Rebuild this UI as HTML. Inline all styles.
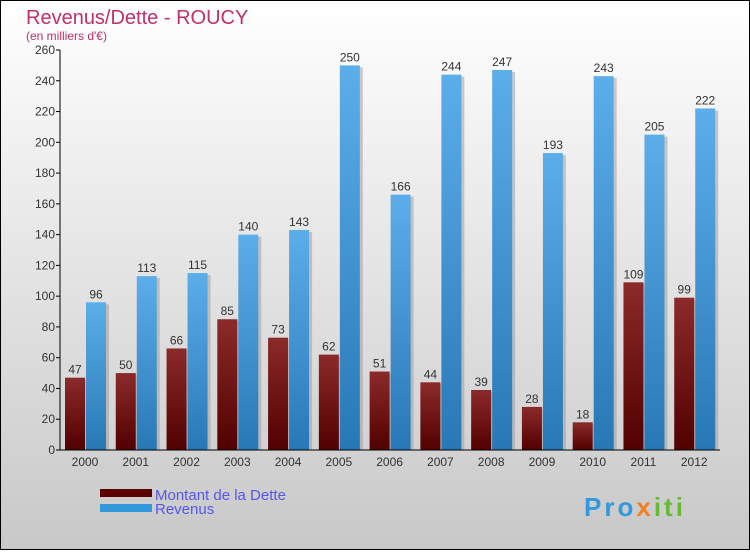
<!DOCTYPE html>
<html><head><meta charset="utf-8"><style>
body{margin:0}
#c{width:750px;height:550px;position:relative;font-family:"Liberation Sans",sans-serif}
</style></head><body>
<div id="c">
<svg id="s" width="750" height="550" xmlns="http://www.w3.org/2000/svg">
<defs>
<linearGradient id="bg" x1="0" y1="0" x2="0" y2="1"><stop offset="0" stop-color="#ffffff"/><stop offset="1" stop-color="#c8c8c8"/></linearGradient>
<linearGradient id="gd" x1="0" y1="0" x2="0" y2="1"><stop offset="0" stop-color="#8c2a2a"/><stop offset="1" stop-color="#520000"/></linearGradient>
<linearGradient id="gr" x1="0" y1="0" x2="0" y2="1"><stop offset="0" stop-color="#5caeea"/><stop offset="1" stop-color="#2878b6"/></linearGradient>
</defs>
<rect x="0.5" y="0.5" width="749" height="549" fill="url(#bg)" stroke="#000"/>
<text x="26" y="24" font-size="20" fill="#c0306a">Revenus/Dette - ROUCY</text>
<text x="26" y="40" font-size="12" fill="#c0306a">(en milliers d'€)</text>
<g id="plot"></g>
<rect x="100" y="489" width="52" height="8" fill="#5a0000"/>
<rect x="100" y="504" width="52" height="8" fill="#3399dd"/>
<text x="155" y="500" font-size="15" fill="#5555ee">Montant de la Dette</text>
<text x="155" y="514" font-size="15" fill="#5555ee">Revenus</text>
<text x="584" y="516" font-size="26" font-weight="bold" letter-spacing="3" fill="#3399dd">Pro<tspan fill="#f08020">x</tspan><tspan fill="#66bb33">iti</tspan></text>
</svg></div>
<script>
const years=["2000","2001","2002","2003","2004","2005","2006","2007","2008","2009","2010","2011","2012"];
const dette=[47,50,66,85,73,62,51,44,39,28,18,109,99];
const revenus=[96,113,115,140,143,250,166,244,247,193,243,205,222];
const yTicks=[0,20,40,60,80,100,120,140,160,180,200,220,240,260];
const NS="http://www.w3.org/2000/svg";
const g=document.getElementById('plot');
const x0=60,x1=720,y0=450,yTop=50,yMax=260;
const gw=(x1-x0)/years.length;
const y=v=>y0-(v/yMax)*(y0-yTop);
function mk(t,a){const e=document.createElementNS(NS,t);for(const k in a)e.setAttribute(k,a[k]);g.appendChild(e);return e;}
yTicks.forEach(t=>{
 const l=mk('line',{x1:x0-4,x2:x0,y1:y(t),y2:y(t),stroke:'#000'});
 
 
 const tx=mk('text',{x:x0-5,y:y(t)+4,'font-size':12,'text-anchor':'end',fill:'#333'});
 tx.textContent=t;
 
 
});
years.forEach((yr,i)=>{
 const gx=x0+i*gw+5;
 [[dette[i],'url(#gd)',gx,'bar-dette'],[revenus[i],'url(#gr)',gx+21,'bar-revenus']].forEach(([v,f,bx,n])=>{
  const sh=mk('rect',{x:bx+3,y:y(v)+2,width:20,height:y0-y(v)-2,fill:'#999',opacity:0.5});
  
  
  const r=mk('rect',{x:bx,y:y(v),width:20,height:y0-y(v),fill:f});
  
  
  const tl=mk('text',{x:bx+10,y:y(v)-4,'font-size':12,'text-anchor':'middle',fill:'#333'});
  tl.textContent=v;
  
  
 });
 const xl=mk('text',{x:gx+20,y:y0+16,'font-size':12,'text-anchor':'middle',fill:'#333'});
 xl.textContent=yr;
 
 
});
const ya=mk('line',{x1:x0,x2:x0,y1:yTop,y2:y0,stroke:'#000'});


const xa=mk('line',{x1:x0,x2:x1,y1:y0,y2:y0,stroke:'#000'});


</script>
</body></html>
